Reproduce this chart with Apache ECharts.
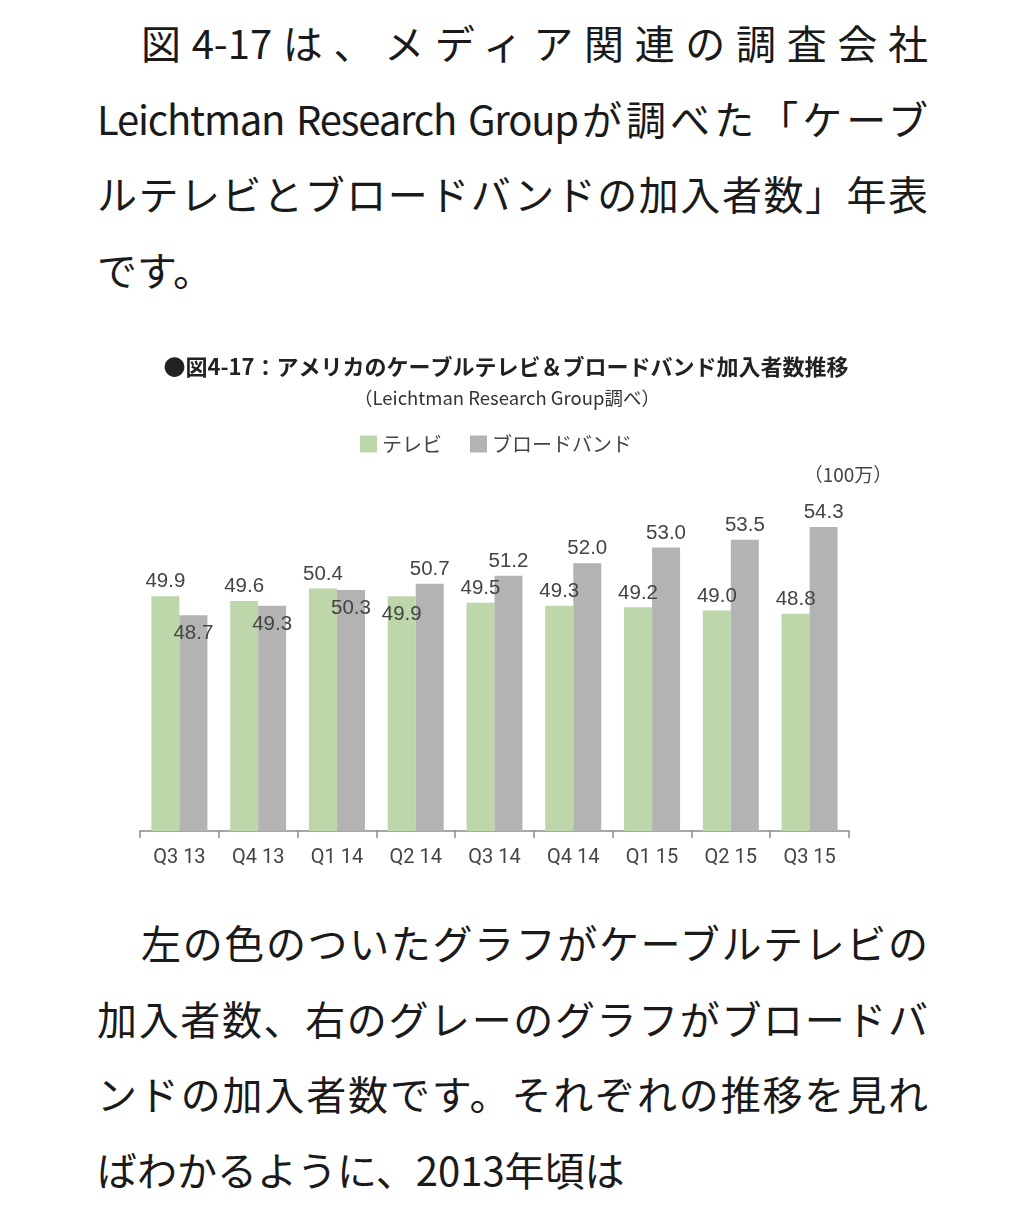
<!DOCTYPE html>
<html>
<head>
<meta charset="utf-8">
<script src="https://cdn.jsdelivr.net/npm/echarts@6/dist/echarts.min.js"></script>
<style>
  html, body { margin: 0; padding: 0; background: #fff; }
  body { width: 1024px; height: 1218px; position: relative; overflow: hidden; }
  .para { position: absolute; left: 97px; width: 831px; font-family: "Noto Sans CJK JP", sans-serif; font-size: 40px; line-height: 75.5px; color: #1a1a1a; }
  .ln { white-space: nowrap; }
  .j { text-align: justify; text-align-last: justify; text-justify: inter-character; }
  .ind { text-indent: 1.1em; }
  .lat { letter-spacing: -1.2px; }
  #chart { position: absolute; left: 0; top: 330px; width: 1024px; height: 560px; }
</style>
</head>
<body>
<div class="para" style="top:5px;">
  <div class="ln j ind">図4-17は、メディア関連の調査会社</div>
  <div class="ln j"><span class="lat">Leichtman Research Group</span>が調べた「ケーブ</div>
  <div class="ln j">ルテレビとブロードバンドの加入者数」年表</div>
  <div class="ln">です。</div>
</div>
<div id="chart"></div>
<div class="para" style="top:905px;">
  <div class="ln j ind">左の色のついたグラフがケーブルテレビの</div>
  <div class="ln j">加入者数、右のグレーのグラフがブロードバ</div>
  <div class="ln j">ンドの加入者数です。それぞれの推移を見れ</div>
  <div class="ln">ばわかるように、2013年頃は</div>
</div>
<script>
const categories = ['Q3 13', 'Q4 13', 'Q1 14', 'Q2 14', 'Q3 14', 'Q4 14', 'Q1 15', 'Q2 15', 'Q3 15'];
const tvValues = [49.9, 49.6, 50.4, 49.9, 49.5, 49.3, 49.2, 49.0, 48.8];
const broadbandValues = [48.7, 49.3, 50.3, 50.7, 51.2, 52.0, 53.0, 53.5, 54.3];
const seriesNames = ['テレビ', 'ブロードバンド'];
const chartTitle = '●図4-17：アメリカのケーブルテレビ＆ブロードバンド加入者数推移';
const chartSubtitle = '（Leichtman Research Group調べ）';
const unitLabel = '（100万）';

// which bars carry their value label just inside the bar top
const tvInside = [3];
const broadbandInside = [0, 1, 2];

const labelFont = '"Liberation Sans", Arial, sans-serif';
function build(values, inside) {
  return values.map((v, i) => inside.includes(i)
    ? { value: v, label: { position: 'insideTop', distance: 8 } }
    : v);
}

const chart = echarts.init(document.getElementById('chart'), null, { renderer: 'canvas' });
chart.setOption({
  animation: false,
  graphic: [
    { type: 'text', x: 506, y: 37, style: { text: chartTitle, fontFamily: '"Noto Sans CJK JP", sans-serif', fontWeight: 'bold', fontSize: 22, fill: '#222', textAlign: 'center', textVerticalAlign: 'middle' } },
    { type: 'text', x: 507, y: 68, style: { text: chartSubtitle, fontFamily: '"Noto Sans CJK JP", sans-serif', fontSize: 18.5, fill: '#333', textAlign: 'center', textVerticalAlign: 'middle' } },
    { type: 'text', x: 848, y: 145, style: { text: unitLabel, fontFamily: '"Noto Sans CJK JP", sans-serif', fontSize: 19, fill: '#444', textAlign: 'center', textVerticalAlign: 'middle' } }
  ],
  legend: {
    left: 355, top: 99,
    itemWidth: 17, itemHeight: 17, itemGap: 28,
    icon: 'rect',
    textStyle: { fontFamily: '"Noto Sans CJK JP", sans-serif', fontSize: 20, color: '#444' },
    data: seriesNames
  },
  grid: { left: 140, right: 175, top: 107.25, bottom: 59, containLabel: false },
  xAxis: {
    type: 'category',
    data: categories,
    axisLine: { lineStyle: { color: '#8a8a8a', width: 1.5 } },
    axisTick: { show: true, length: 7, lineStyle: { color: '#8a8a8a', width: 1.5 } },
    axisLabel: { margin: 17, fontFamily: '"Roboto", sans-serif', fontSize: 20, color: '#444' }
  },
  yAxis: { type: 'value', min: 35, max: 60, show: false, splitLine: { show: false } },
  series: [
    {
      name: seriesNames[0], type: 'bar', barWidth: 28, barGap: '0%',
      itemStyle: { color: '#bdd6aa' },
      label: { show: true, position: 'top', distance: 4, fontFamily: labelFont, fontSize: 20.5, color: '#444', formatter: p => p.value.toFixed(1) },
      data: build(tvValues, tvInside)
    },
    {
      name: seriesNames[1], type: 'bar', barWidth: 28, barGap: '0%',
      itemStyle: { color: '#b3b3b3' },
      label: { show: true, position: 'top', distance: 4, fontFamily: labelFont, fontSize: 20.5, color: '#444', formatter: p => p.value.toFixed(1) },
      data: build(broadbandValues, broadbandInside)
    }
  ]
});
</script>
</body>
</html>
